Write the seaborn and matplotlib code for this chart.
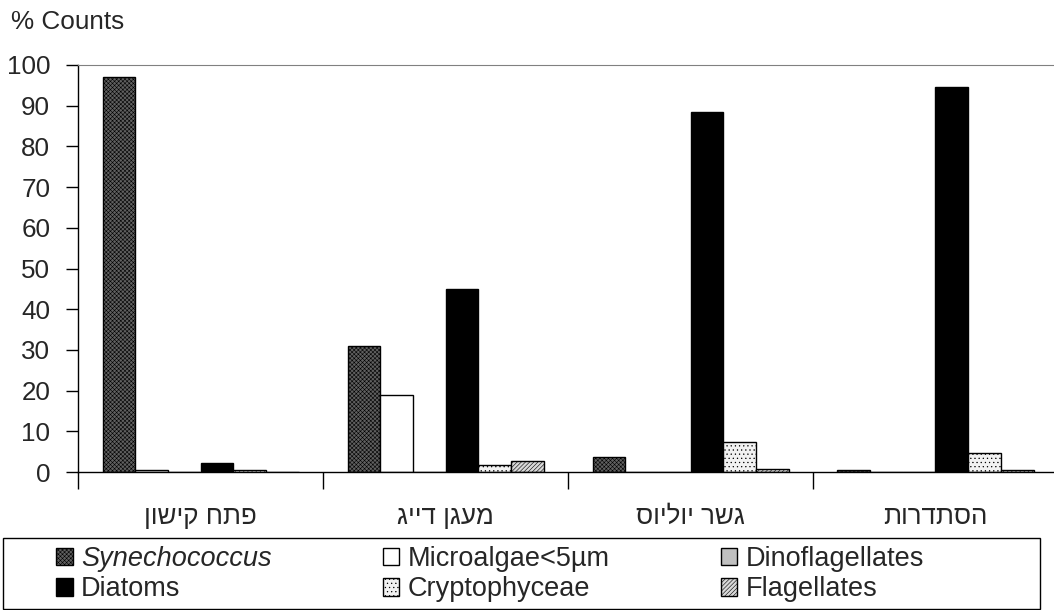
import numpy as np
import pandas as pd
import matplotlib
matplotlib.use("Agg")
import matplotlib.pyplot as plt
from matplotlib.patches import Patch, Rectangle
import seaborn as sns

sns.set_style("white")
plt.rcParams['font.family'] = ['Liberation Sans', 'DejaVu Sans']
plt.rcParams['hatch.linewidth'] = 0.4

sites = ['פתח קישון', 'מעגן דייג', 'גשר יוליוס', 'הסתדרות']
groups = ['Synechococcus', 'Microalgae<5µm', 'Dinoflagellates',
          'Diatoms', 'Cryptophyceae', 'Flagellates']
synechococcus = [97, 31, 3.8, 0.5]
microalgae = [0.5, 19, 0, 0]
dinoflagellates = [0, 0, 0, 0]
diatoms = [2.2, 45, 88.5, 94.5]
cryptophyceae = [0.5, 1.8, 7.3, 4.7]
flagellates = [0, 2.6, 0.8, 0.5]

values = [synechococcus, microalgae, dinoflagellates, diatoms, cryptophyceae, flagellates]
# matplotlib has no bidi, so reverse hebrew for display
shown = [s[::-1] for s in sites]
rows = []
for g, vals in zip(groups, values):
    for s, v in zip(shown, vals):
        rows.append({'site': s, 'group': g, 'value': v})
df = pd.DataFrame(rows)

styles = {
    'Synechococcus': dict(facecolor='#606060', hatch='xxxxxxxx'),
    'Microalgae<5µm': dict(facecolor='white', hatch=''),
    'Dinoflagellates': dict(facecolor='#c0c0c0', hatch=''),
    'Diatoms': dict(facecolor='black', hatch=''),
    'Cryptophyceae': dict(facecolor='#f2f2f2', hatch='....'),
    'Flagellates': dict(facecolor='#d8d8d8', hatch='////////'),
}

fig = plt.figure(figsize=(10.54, 6.10), dpi=100)
ax = fig.add_axes([78/1054, 138/610, 980/1054, 407/610])

sns.barplot(data=df, x='site', y='value', hue='group', order=shown,
            hue_order=groups, width=0.8, edgecolor='black', linewidth=1,
            legend=False, ax=ax)
for cont, g in zip(ax.containers, groups):
    for bar in cont:
        bar.set_facecolor(styles[g]['facecolor'])
        bar.set_hatch(styles[g]['hatch'])
        bar.set_edgecolor('black')

ax.set_xlim(-0.5, 3.5)
ax.set_ylim(0, 100)
ax.set_yticks(range(0, 101, 10))
ax.set_xlabel('')
ax.set_ylabel('')
ax.set_xticks(np.arange(-0.5, 4, 1), minor=True)
ax.tick_params(axis='y', labelsize=18.7, length=9, width=1, pad=11, color='black', left=True)
ax.tick_params(axis='x', which='major', length=0, pad=24, labelsize=18.7)
ax.tick_params(axis='x', which='minor', length=12, width=1, color='black', bottom=True)
for sp in ['left', 'bottom']:
    ax.spines[sp].set_color('black')
    ax.spines[sp].set_linewidth(1)
ax.spines['top'].set_color('#808080')
ax.spines['right'].set_visible(False)

fig.text(11/1054, 1 - 22/610, '% Counts', fontsize=18.8, va='center', ha='left')

order = [0, 3, 1, 4, 2, 5]
handles = [Patch(facecolor=styles[groups[i]]['facecolor'], hatch=styles[groups[i]]['hatch'],
                 edgecolor='black', linewidth=1) for i in order]
labels = [groups[i] for i in order]
leg = fig.legend(handles, labels, ncol=3, loc='upper left',
                 bbox_to_anchor=(56/1054, 1 - 546/610), frameon=False,
                 fontsize=19.5, handlelength=0.62, handleheight=0.62,
                 handletextpad=0.3, columnspacing=4.1, labelspacing=0.16,
                 borderpad=0, borderaxespad=0)
leg.get_texts()[0].set_fontstyle('italic')
fig.add_artist(Rectangle((3/1054, 1/610), 1037/1054, 71/610, transform=fig.transFigure,
                         fill=False, edgecolor='black', linewidth=1))

fig.savefig('out.png', dpi=100)
